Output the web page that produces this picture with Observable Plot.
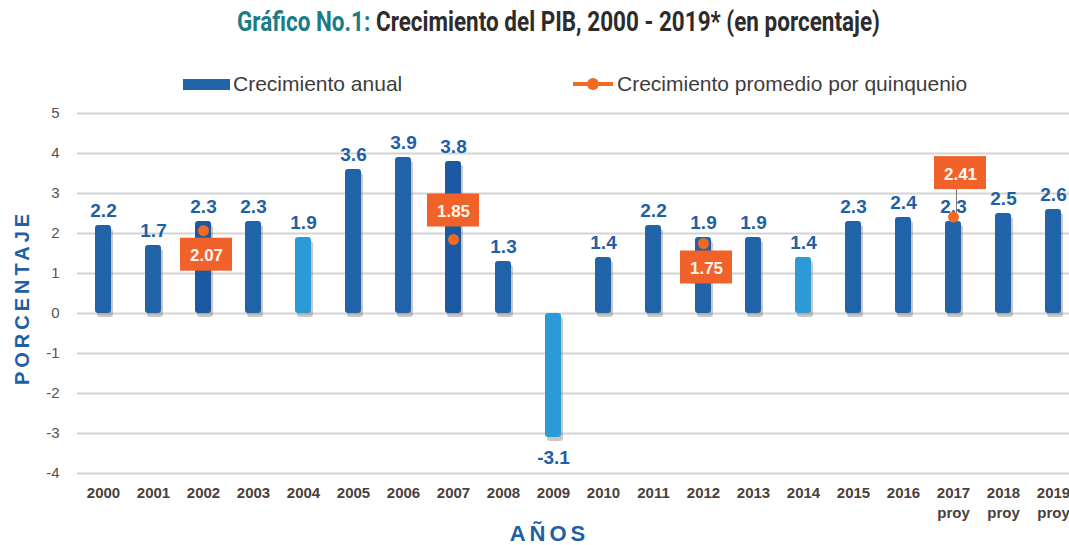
<!DOCTYPE html>
<html>
<head>
<meta charset="utf-8">
<script src="https://cdn.jsdelivr.net/npm/d3@7"></script>
<script src="https://cdn.jsdelivr.net/npm/@observablehq/plot@0.6"></script>
<style>
  body { margin: 0; background: #fff; font-family: "Liberation Sans", Arial, sans-serif; }
  #wrap { position: relative; width: 1069px; height: 545px; overflow: hidden; background: #fff; }
  #title { position: absolute; top: 6px; left: 237px; white-space: nowrap; transform-origin: 0 0;
           font-family: "Roboto", "Liberation Sans", sans-serif; font-weight: bold; font-size: 27px; color: #2e2b2b; }
  #title .lead { color: #1b7c86; }
  .leg { position: absolute; top: 72px; font-size: 21px; color: #3f3c3c; white-space: nowrap; }
  #chart { position: absolute; left: 0; top: 95px; }
</style>
</head>
<body>
<div id="wrap">
  <div id="title"><span class="lead">Gráfico No.1:</span> Crecimiento del PIB, 2000 - 2019* (en porcentaje)</div>
  <div class="leg" style="left:183px;"><span style="display:inline-block;width:47px;height:11px;background:#2163a8;vertical-align:middle;margin-right:3px;position:relative;top:-1px;"></span>Crecimiento anual</div>
  <div class="leg" style="left:573px;"><svg width="40" height="14" style="vertical-align:middle;margin-right:4px;position:relative;top:-1px;"><line x1="1" y1="7" x2="39" y2="7" stroke="#f26a21" stroke-width="4" stroke-linecap="round"/><circle cx="20" cy="7" r="6" fill="#f26a21"/></svg>Crecimiento promedio por quinquenio</div>
  <div id="chart"></div>
</div>
<script>
// ---- data ----
const years = ["2000","2001","2002","2003","2004","2005","2006","2007","2008","2009",
               "2010","2011","2012","2013","2014","2015","2016","2017","2018","2019"];
const growth = [2.2, 1.7, 2.3, 2.3, 1.9, 3.6, 3.9, 3.8, 1.3, -3.1,
                1.4, 2.2, 1.9, 1.9, 1.4, 2.3, 2.4, 2.3, 2.5, 2.6];
const avgYears = ["2002", "2007", "2012", "2017"];
const avgValues = [2.07, 1.85, 1.75, 2.41];
const projYears = ["2017", "2018", "2019"];
const yTicks = [-4, -3, -2, -1, 0, 1, 2, 3, 4, 5];

// ---- styling helpers (not data) ----
const lightYears = ["2004", "2009", "2014"];
const darkYears = ["2002", "2007"];
const barColor = y => lightYears.includes(y) ? "#2b9ad6" : darkYears.includes(y) ? "#1b5aa2" : "#2163a8";
const boxOffsets = [{dx: 3, dy: 24}, {dx: 0, dy: -29}, {dx: 3, dy: 24}, {dx: 7, dy: -44}];

const annual = years.map((y, i) => ({year: y, value: growth[i]}));
const avg = avgYears.map((y, i) => ({year: y, value: avgValues[i]}));

const blue = "#1f5fa6";
const orange = "#f26a21";

const boxMarks = avg.flatMap((d, i) => [
  Plot.rect([d], {x: "year", y1: "value", y2: "value", fill: "#f0622a",
    insetLeft: -18, insetRight: -18, insetTop: -16.5, insetBottom: -16.5,
    dx: boxOffsets[i].dx, dy: boxOffsets[i].dy}),
  Plot.text([d], {x: "year", y: "value", text: v => v.value.toFixed(2), fill: "#fff7ee",
    fontSize: 17, fontWeight: "bold", dx: boxOffsets[i].dx, dy: boxOffsets[i].dy + 1})
]);

const chart = Plot.plot({
  width: 1069,
  height: 450,
  marginTop: 18,
  marginBottom: 72,
  marginLeft: 77,
  marginRight: 0,
  style: {fontFamily: "'Liberation Sans', Arial, sans-serif", background: "transparent"},
  x: {domain: years, range: [78, 1078], paddingInner: 0.68, paddingOuter: 0.34, axis: null},
  y: {domain: [-4, 5], axis: null},
  marks: [
    Plot.gridY(yTicks, {stroke: "#d3d3d3", strokeWidth: 2, strokeOpacity: 1}),
    Plot.axisY(yTicks, {tickSize: 0, tickPadding: 18, fontSize: 15, fill: "#5b4f4a", label: null, tickFormat: d => String(d)}),
    Plot.axisX({tickSize: 0, tickPadding: 14, fontSize: 15, fontWeight: "bold", fill: "#4b403b", label: null}),
    Plot.text(projYears, {x: d => d, y: -4, dy: 40, text: () => "proy", fontSize: 15, fontWeight: "bold", fill: "#4b403b"}),
    // bar shadow
    Plot.barY(annual, {x: "year", y: "value", fill: "#6e5d55", fillOpacity: 0.35, dx: 2, dy: 4, rx: 3}),
    Plot.barY(annual, {x: "year", y: "value", fill: d => barColor(d.year), rx: 3}),
    // value labels
    Plot.text(annual.filter(d => d.value >= 0), {x: "year", y: "value", text: d => d.value.toFixed(1),
      dy: -15, fontSize: 19, fontWeight: "bold", fill: blue}),
    Plot.text(annual.filter(d => d.value < 0), {x: "year", y: "value", text: d => d.value.toFixed(1),
      dy: 20, fontSize: 19, fontWeight: "bold", fill: blue}),
    // leader line for 2017
    Plot.ruleX(avg.filter(d => d.year === "2017"), {x: "year", y1: "value", y2: "value", insetTop: -28, dx: 3, stroke: "#7a7a7a", strokeWidth: 1}),
    Plot.dot(avg, {x: "year", y: "value", r: 5.5, fill: orange}),
    ...boxMarks,
    // axis titles
    Plot.text(["PORCENTAJE"], {frameAnchor: "left", textAnchor: "middle", lineAnchor: "middle", dx: -55, dy: 4, rotate: -90, fontSize: 20, fontWeight: "bold", fill: blue}),
    Plot.text(["AÑOS"], {frameAnchor: "bottom", textAnchor: "middle", lineAnchor: "middle", dx: -24, dy: 60, fontSize: 22, fontWeight: "bold", fill: blue})
  ]
});

d3.select(chart).selectAll("text").filter(function() { return this.textContent === "PORCENTAJE" || this.textContent === "AÑOS"; })
  .style("letter-spacing", "4px");

document.getElementById("chart").appendChild(chart);

// fit title width to reference (condensed look)
const t = document.getElementById("title");
const w = t.getBoundingClientRect().width;
t.style.transform = `scaleX(${643 / w})`;
</script>
</body>
</html>
